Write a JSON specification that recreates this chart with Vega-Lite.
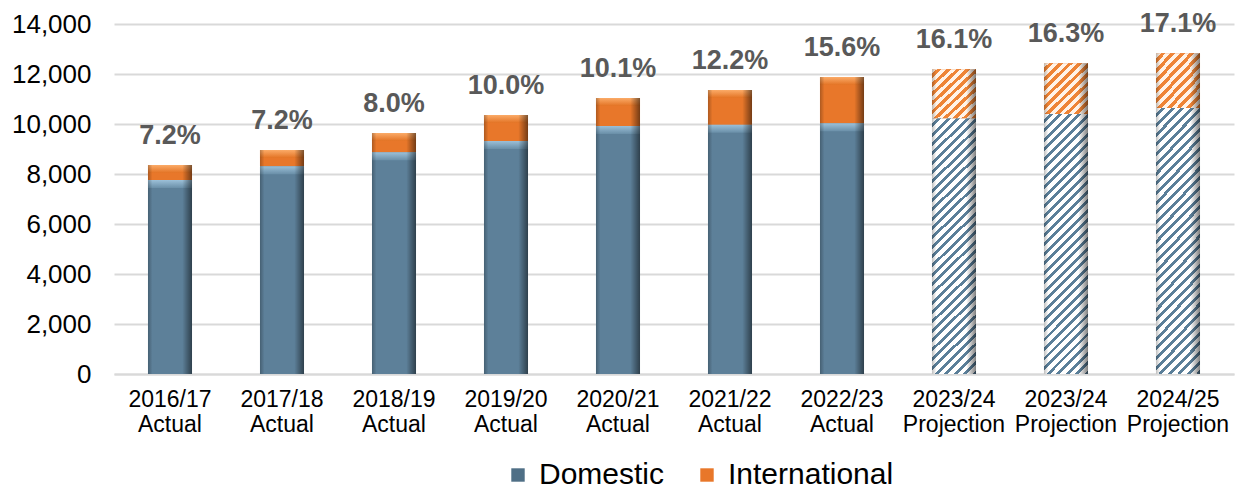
{
  "$schema": "https://vega.github.io/schema/vega-lite/v6.json",
  "width": 1120,
  "height": 350,
  "autosize": "none",
  "padding": {"left": 114, "top": 24, "right": 1, "bottom": 119},
  "config": {
    "font": "Liberation Sans",
    "view": {"stroke": null},
    "axisX": {"labelFontSize": 23, "labelColor": "#000000", "labelPadding": 14, "labelLineHeight": 25, "ticks": false, "domainColor": "#d9d9d9", "domainWidth": 2, "labelAngle": 0, "title": null},
    "axisY": {"labelFontSize": 26, "labelColor": "#000000", "labelPadding": 23, "ticks": false, "domain": false, "gridColor": "#d9d9d9", "gridWidth": 2, "tickCount": 7, "title": null}
  },
  "data": {"values": [
    {"cat": "2016/17|Actual", "type": "Domestic", "value": 7758, "pct": 0.072, "ord": 1, "proj": 0},
    {"cat": "2016/17|Actual", "type": "International", "value": 602, "pct": 0.072, "ord": 2, "proj": 0},
    {"cat": "2017/18|Actual", "type": "Domestic", "value": 8315, "pct": 0.072, "ord": 1, "proj": 0},
    {"cat": "2017/18|Actual", "type": "International", "value": 645, "pct": 0.072, "ord": 2, "proj": 0},
    {"cat": "2018/19|Actual", "type": "Domestic", "value": 8869, "pct": 0.08, "ord": 1, "proj": 0},
    {"cat": "2018/19|Actual", "type": "International", "value": 771, "pct": 0.08, "ord": 2, "proj": 0},
    {"cat": "2019/20|Actual", "type": "Domestic", "value": 9325, "pct": 0.1, "ord": 1, "proj": 0},
    {"cat": "2019/20|Actual", "type": "International", "value": 1035, "pct": 0.1, "ord": 2, "proj": 0},
    {"cat": "2020/21|Actual", "type": "Domestic", "value": 9925, "pct": 0.101, "ord": 1, "proj": 0},
    {"cat": "2020/21|Actual", "type": "International", "value": 1115, "pct": 0.101, "ord": 2, "proj": 0},
    {"cat": "2021/22|Actual", "type": "Domestic", "value": 9974, "pct": 0.122, "ord": 1, "proj": 0},
    {"cat": "2021/22|Actual", "type": "International", "value": 1386, "pct": 0.122, "ord": 2, "proj": 0},
    {"cat": "2022/23|Actual", "type": "Domestic", "value": 10027, "pct": 0.156, "ord": 1, "proj": 0},
    {"cat": "2022/23|Actual", "type": "International", "value": 1853, "pct": 0.156, "ord": 2, "proj": 0},
    {"cat": "2023/24|Projection", "type": "Domestic", "value": 10227, "pct": 0.161, "ord": 1, "proj": 1},
    {"cat": "2023/24|Projection", "type": "International", "value": 1963, "pct": 0.161, "ord": 2, "proj": 1},
    {"cat": "2023/24|Projection|2", "type": "Domestic", "value": 10404, "pct": 0.163, "ord": 1, "proj": 1},
    {"cat": "2023/24|Projection|2", "type": "International", "value": 2026, "pct": 0.163, "ord": 2, "proj": 1},
    {"cat": "2024/25|Projection", "type": "Domestic", "value": 10636, "pct": 0.171, "ord": 1, "proj": 1},
    {"cat": "2024/25|Projection", "type": "International", "value": 2194, "pct": 0.171, "ord": 2, "proj": 1}
  ]},
  "transform": [{"stack": "value", "groupby": ["cat"], "sort": [{"field": "ord"}], "as": ["y0", "y1"]}],
  "encoding": {
    "x": {"field": "cat", "type": "nominal", "sort": null, "scale": {"paddingInner": 0.607, "paddingOuter": 0.3035}, "axis": {"labelExpr": "slice(split(datum.value, '|'), 0, 2)"}}
  },
  "layer": [
    {
      "mark": {"type": "bar"},
      "encoding": {
        "y": {"field": "y0", "type": "quantitative", "scale": {"domain": [0, 14000]}},
        "y2": {"field": "y1"},
        "color": {"field": "type", "type": "nominal", "scale": {"domain": ["Domestic", "International"], "range": ["#4f6f86", "#e8772a"]},
          "legend": {"orient": "none", "legendX": 389, "legendY": 436, "direction": "horizontal", "title": null, "labelFontSize": 30, "labelLimit": 400, "labelColor": "#000000", "symbolType": "square", "symbolSize": 180, "columnPadding": 27, "labelOffset": 6, "symbolStrokeWidth": 0}}
      }
    },
    {
      "transform": [{"filter": "datum.proj == 0"}],
      "mark": {"type": "bar"},
      "encoding": {
        "y": {"field": "y0", "type": "quantitative"},
        "y2": {"field": "y1"},
        "fill": {"condition": {"test": "datum.type === 'Domestic'", "value": "#5d8099"}, "value": "#e8772a"}
      }
    },
    {
      "transform": [{"filter": "datum.proj == 1"}],
      "mark": {"type": "bar"},
      "encoding": {
        "y": {"field": "y0", "type": "quantitative"},
        "y2": {"field": "y1"},
        "fill": {
          "condition": {"test": "datum.type === 'Domestic'", "value": {"gradient": "linear", "x1": 0, "y1": 0, "x2": 0.1924, "y2": 1.1367, "stops": [
            {"offset": 0, "color": "#ffffff"}, {"offset": 0.0181, "color": "#ffffff"}, {"offset": 0.0181, "color": "#5b7f99"}, {"offset": 0.0313, "color": "#5b7f99"},
            {"offset": 0.0313, "color": "#ffffff"}, {"offset": 0.0494, "color": "#ffffff"}, {"offset": 0.0494, "color": "#5b7f99"}, {"offset": 0.0625, "color": "#5b7f99"},
            {"offset": 0.0625, "color": "#ffffff"}, {"offset": 0.0806, "color": "#ffffff"}, {"offset": 0.0806, "color": "#5b7f99"}, {"offset": 0.0938, "color": "#5b7f99"},
            {"offset": 0.0938, "color": "#ffffff"}, {"offset": 0.1119, "color": "#ffffff"}, {"offset": 0.1119, "color": "#5b7f99"}, {"offset": 0.125, "color": "#5b7f99"},
            {"offset": 0.125, "color": "#ffffff"}, {"offset": 0.1431, "color": "#ffffff"}, {"offset": 0.1431, "color": "#5b7f99"}, {"offset": 0.1563, "color": "#5b7f99"},
            {"offset": 0.1563, "color": "#ffffff"}, {"offset": 0.1744, "color": "#ffffff"}, {"offset": 0.1744, "color": "#5b7f99"}, {"offset": 0.1875, "color": "#5b7f99"},
            {"offset": 0.1875, "color": "#ffffff"}, {"offset": 0.2056, "color": "#ffffff"}, {"offset": 0.2056, "color": "#5b7f99"}, {"offset": 0.2188, "color": "#5b7f99"},
            {"offset": 0.2188, "color": "#ffffff"}, {"offset": 0.2369, "color": "#ffffff"}, {"offset": 0.2369, "color": "#5b7f99"}, {"offset": 0.25, "color": "#5b7f99"},
            {"offset": 0.25, "color": "#ffffff"}, {"offset": 0.2681, "color": "#ffffff"}, {"offset": 0.2681, "color": "#5b7f99"}, {"offset": 0.2813, "color": "#5b7f99"},
            {"offset": 0.2813, "color": "#ffffff"}, {"offset": 0.2994, "color": "#ffffff"}, {"offset": 0.2994, "color": "#5b7f99"}, {"offset": 0.3125, "color": "#5b7f99"},
            {"offset": 0.3125, "color": "#ffffff"}, {"offset": 0.3306, "color": "#ffffff"}, {"offset": 0.3306, "color": "#5b7f99"}, {"offset": 0.3438, "color": "#5b7f99"},
            {"offset": 0.3438, "color": "#ffffff"}, {"offset": 0.3619, "color": "#ffffff"}, {"offset": 0.3619, "color": "#5b7f99"}, {"offset": 0.375, "color": "#5b7f99"},
            {"offset": 0.375, "color": "#ffffff"}, {"offset": 0.3931, "color": "#ffffff"}, {"offset": 0.3931, "color": "#5b7f99"}, {"offset": 0.4063, "color": "#5b7f99"},
            {"offset": 0.4063, "color": "#ffffff"}, {"offset": 0.4244, "color": "#ffffff"}, {"offset": 0.4244, "color": "#5b7f99"}, {"offset": 0.4375, "color": "#5b7f99"},
            {"offset": 0.4375, "color": "#ffffff"}, {"offset": 0.4556, "color": "#ffffff"}, {"offset": 0.4556, "color": "#5b7f99"}, {"offset": 0.4688, "color": "#5b7f99"},
            {"offset": 0.4688, "color": "#ffffff"}, {"offset": 0.4869, "color": "#ffffff"}, {"offset": 0.4869, "color": "#5b7f99"}, {"offset": 0.5, "color": "#5b7f99"},
            {"offset": 0.5, "color": "#ffffff"}, {"offset": 0.5181, "color": "#ffffff"}, {"offset": 0.5181, "color": "#5b7f99"}, {"offset": 0.5313, "color": "#5b7f99"},
            {"offset": 0.5313, "color": "#ffffff"}, {"offset": 0.5494, "color": "#ffffff"}, {"offset": 0.5494, "color": "#5b7f99"}, {"offset": 0.5625, "color": "#5b7f99"},
            {"offset": 0.5625, "color": "#ffffff"}, {"offset": 0.5806, "color": "#ffffff"}, {"offset": 0.5806, "color": "#5b7f99"}, {"offset": 0.5938, "color": "#5b7f99"},
            {"offset": 0.5938, "color": "#ffffff"}, {"offset": 0.6119, "color": "#ffffff"}, {"offset": 0.6119, "color": "#5b7f99"}, {"offset": 0.625, "color": "#5b7f99"},
            {"offset": 0.625, "color": "#ffffff"}, {"offset": 0.6431, "color": "#ffffff"}, {"offset": 0.6431, "color": "#5b7f99"}, {"offset": 0.6563, "color": "#5b7f99"},
            {"offset": 0.6563, "color": "#ffffff"}, {"offset": 0.6744, "color": "#ffffff"}, {"offset": 0.6744, "color": "#5b7f99"}, {"offset": 0.6875, "color": "#5b7f99"},
            {"offset": 0.6875, "color": "#ffffff"}, {"offset": 0.7056, "color": "#ffffff"}, {"offset": 0.7056, "color": "#5b7f99"}, {"offset": 0.7188, "color": "#5b7f99"},
            {"offset": 0.7188, "color": "#ffffff"}, {"offset": 0.7369, "color": "#ffffff"}, {"offset": 0.7369, "color": "#5b7f99"}, {"offset": 0.75, "color": "#5b7f99"},
            {"offset": 0.75, "color": "#ffffff"}, {"offset": 0.7681, "color": "#ffffff"}, {"offset": 0.7681, "color": "#5b7f99"}, {"offset": 0.7813, "color": "#5b7f99"},
            {"offset": 0.7813, "color": "#ffffff"}, {"offset": 0.7994, "color": "#ffffff"}, {"offset": 0.7994, "color": "#5b7f99"}, {"offset": 0.8125, "color": "#5b7f99"},
            {"offset": 0.8125, "color": "#ffffff"}, {"offset": 0.8306, "color": "#ffffff"}, {"offset": 0.8306, "color": "#5b7f99"}, {"offset": 0.8438, "color": "#5b7f99"},
            {"offset": 0.8438, "color": "#ffffff"}, {"offset": 0.8619, "color": "#ffffff"}, {"offset": 0.8619, "color": "#5b7f99"}, {"offset": 0.875, "color": "#5b7f99"},
            {"offset": 0.875, "color": "#ffffff"}, {"offset": 0.8931, "color": "#ffffff"}, {"offset": 0.8931, "color": "#5b7f99"}, {"offset": 0.9063, "color": "#5b7f99"},
            {"offset": 0.9063, "color": "#ffffff"}, {"offset": 0.9244, "color": "#ffffff"}, {"offset": 0.9244, "color": "#5b7f99"}, {"offset": 0.9375, "color": "#5b7f99"},
            {"offset": 0.9375, "color": "#ffffff"}, {"offset": 0.9556, "color": "#ffffff"}, {"offset": 0.9556, "color": "#5b7f99"}, {"offset": 0.9688, "color": "#5b7f99"},
            {"offset": 0.9688, "color": "#ffffff"}, {"offset": 0.9869, "color": "#ffffff"}, {"offset": 0.9869, "color": "#5b7f99"}, {"offset": 1, "color": "#5b7f99"}
          ]}},
          "value": {"gradient": "linear", "x1": 0, "y1": 0, "x2": 0.9103, "y2": 1.0759, "stops": [
            {"offset": 0, "color": "#fff3e8"}, {"offset": 0.05, "color": "#fff3e8"}, {"offset": 0.05, "color": "#ee8436"}, {"offset": 0.1, "color": "#ee8436"},
            {"offset": 0.1, "color": "#fff3e8"}, {"offset": 0.15, "color": "#fff3e8"}, {"offset": 0.15, "color": "#ee8436"}, {"offset": 0.2, "color": "#ee8436"},
            {"offset": 0.2, "color": "#fff3e8"}, {"offset": 0.25, "color": "#fff3e8"}, {"offset": 0.25, "color": "#ee8436"}, {"offset": 0.3, "color": "#ee8436"},
            {"offset": 0.3, "color": "#fff3e8"}, {"offset": 0.35, "color": "#fff3e8"}, {"offset": 0.35, "color": "#ee8436"}, {"offset": 0.4, "color": "#ee8436"},
            {"offset": 0.4, "color": "#fff3e8"}, {"offset": 0.45, "color": "#fff3e8"}, {"offset": 0.45, "color": "#ee8436"}, {"offset": 0.5, "color": "#ee8436"},
            {"offset": 0.5, "color": "#fff3e8"}, {"offset": 0.55, "color": "#fff3e8"}, {"offset": 0.55, "color": "#ee8436"}, {"offset": 0.6, "color": "#ee8436"},
            {"offset": 0.6, "color": "#fff3e8"}, {"offset": 0.65, "color": "#fff3e8"}, {"offset": 0.65, "color": "#ee8436"}, {"offset": 0.7, "color": "#ee8436"},
            {"offset": 0.7, "color": "#fff3e8"}, {"offset": 0.75, "color": "#fff3e8"}, {"offset": 0.75, "color": "#ee8436"}, {"offset": 0.8, "color": "#ee8436"},
            {"offset": 0.8, "color": "#fff3e8"}, {"offset": 0.85, "color": "#fff3e8"}, {"offset": 0.85, "color": "#ee8436"}, {"offset": 0.9, "color": "#ee8436"},
            {"offset": 0.9, "color": "#fff3e8"}, {"offset": 0.95, "color": "#fff3e8"}, {"offset": 0.95, "color": "#ee8436"}, {"offset": 1, "color": "#ee8436"}
          ]}
        }
      }
    },
    {
      "transform": [{"filter": "datum.proj == 0"}],
      "mark": {"type": "bar", "y2Offset": 8},
      "encoding": {
        "y": {"field": "y1", "type": "quantitative"},
        "y2": {"field": "y1"},
        "fill": {
          "condition": {"test": "datum.type === 'Domestic'", "value": {"gradient": "linear", "x1": 0, "y1": 0, "x2": 0, "y2": 1, "stops": [{"offset": 0, "color": "#9cc0d8"}, {"offset": 1, "color": "#6a8fa8"}]}},
          "value": {"gradient": "linear", "x1": 0, "y1": 0, "x2": 0, "y2": 1, "stops": [{"offset": 0, "color": "#fbab68"}, {"offset": 1, "color": "#e37324"}]}
        }
      }
    },
    {
      "mark": {"type": "bar", "fill": {"gradient": "linear", "x1": 0, "y1": 0, "x2": 1, "y2": 0, "stops": [
        {"offset": 0, "color": "rgba(0,0,0,0.25)"}, {"offset": 0.1, "color": "rgba(0,0,0,0)"}, {"offset": 0.78, "color": "rgba(0,0,0,0)"}, {"offset": 1, "color": "rgba(0,0,0,0.5)"}
      ]}},
      "encoding": {
        "y": {"field": "y0", "type": "quantitative"},
        "y2": {"field": "y1"}
      }
    },
    {
      "transform": [{"filter": "datum.type === 'International'"}],
      "mark": {"type": "text", "fontSize": 27, "fontWeight": "bold", "color": "#595959", "baseline": "alphabetic", "dy": -21},
      "encoding": {
        "y": {"field": "y1", "type": "quantitative"},
        "text": {"field": "pct", "type": "quantitative", "format": ".1%"}
      }
    }
  ]
}
